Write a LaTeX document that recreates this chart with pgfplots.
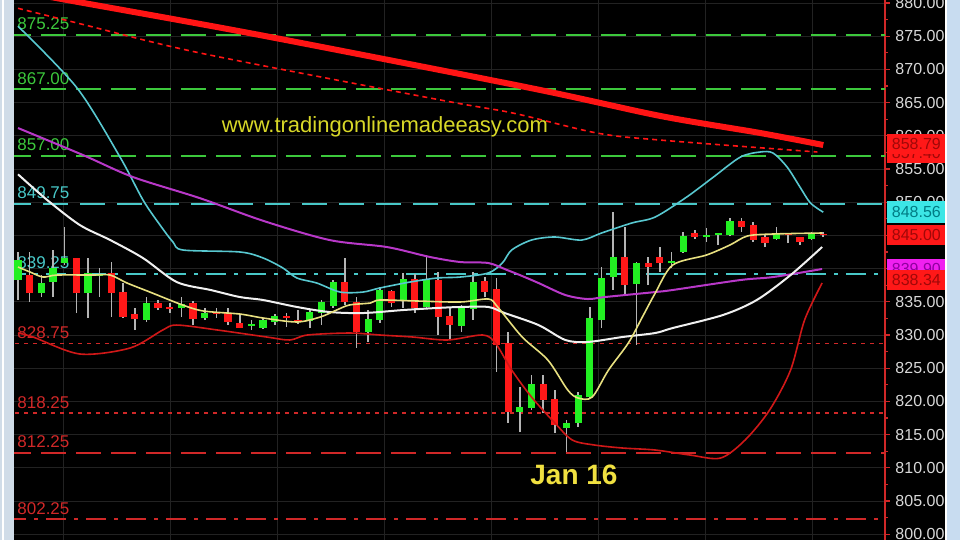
\documentclass[border=0pt]{standalone}
\usepackage{pgfplots}
\pgfplotsset{compat=1.18}
\usepackage{pgfplotstable}
\usepackage{fontspec}
\setmainfont{Liberation Sans}

\definecolor{gline}{HTML}{3CC83C}
\definecolor{cline}{HTML}{48C8C8}
\definecolor{rline}{HTML}{D02828}
\definecolor{cyanma}{HTML}{58C8D0}
\definecolor{magma}{HTML}{B838C8}
\definecolor{whitema}{HTML}{F0F0F0}
\definecolor{yelma}{HTML}{E8E080}
\definecolor{redlow}{HTML}{D01818}
\definecolor{redthick}{HTML}{FF1414}
\definecolor{candleg}{HTML}{22F022}
\definecolor{candler}{HTML}{FF1818}
\definecolor{wickc}{HTML}{B4B4B4}
\definecolor{tickc}{HTML}{D8D8D8}
\definecolor{gridc}{HTML}{222222}
\definecolor{webyel}{HTML}{D8D828}
\definecolor{janyel}{HTML}{F0E040}
\definecolor{leftbar}{HTML}{D0DCE8}
\definecolor{scrollc}{HTML}{C8DCF0}
\definecolor{boxcyan}{HTML}{3CE6E6}
\definecolor{boxcyantxt}{HTML}{007C84}
\definecolor{boxred}{HTML}{FF1818}
\definecolor{boxredtxt}{HTML}{A00808}
\definecolor{boxmag}{HTML}{F020F0}
\definecolor{boxmagtxt}{HTML}{9000A0}

% candles: i low high body-bottom body-top
\pgfplotstableread{
i lo hi bot top
0 835.27 842.50 838.28 841.29
2 835.72 839.03 836.32 837.83
3 835.72 842.80 837.98 840.09
4 840.54 846.26 840.84 841.59
6 832.56 841.59 836.32 839.34
7 835.72 840.09 838.90 839.20
11 831.96 835.72 832.26 834.82
14 832.71 835.72 834.06 834.67
16 832.26 834.06 832.56 833.31
20 830.75 832.26 831.35 831.65
21 830.90 832.56 831.05 832.26
22 831.50 833.16 831.96 832.86
25 831.05 833.76 832.11 833.46
26 831.50 835.27 833.31 834.97
27 834.06 838.28 834.37 837.98
30 828.94 833.76 830.45 832.41
31 831.81 837.23 832.26 836.78
33 834.06 839.34 835.12 838.43
35 834.06 842.05 834.22 838.28
38 830.45 834.52 831.35 834.22
39 832.26 839.49 833.91 837.98
43 815.39 822.17 818.40 819.15
44 818.70 823.97 819.00 822.62
47 812.38 817.20 815.99 816.75
48 816.14 821.41 816.75 820.96
49 820.51 834.22 820.66 832.56
50 831.05 840.24 832.26 838.58
51 836.78 848.52 838.73 841.75
53 828.49 840.99 837.68 840.84
56 840.09 842.50 840.84 841.14
57 842.35 845.51 842.50 844.91
59 844.00 846.11 844.76 845.06
60 843.55 845.36 845.06 845.36
61 844.91 847.62 845.06 847.17
65 844.31 846.26 844.46 845.21
68 844.31 845.51 844.46 845.36
}\upcandles

\pgfplotstableread{
i lo hi bot top
1 834.97 842.50 836.32 839.03
5 833.31 841.59 836.32 841.59
8 832.71 840.99 836.32 839.34
9 832.56 837.83 832.71 836.47
10 830.75 834.06 832.41 833.16
12 833.76 835.27 834.06 834.82
13 833.31 834.82 833.95 834.22
15 831.50 835.12 832.41 834.82
17 832.56 834.06 833.10 833.31
18 831.50 834.06 831.96 833.31
19 831.05 833.01 831.05 831.81
23 831.20 833.31 832.56 832.86
24 831.65 833.76 832.00 832.30
28 834.52 841.59 834.97 837.98
29 828.04 835.72 830.45 834.97
32 834.22 836.78 834.82 836.62
34 833.31 839.18 834.06 838.43
36 830.00 839.49 832.71 838.28
37 829.25 834.06 831.50 832.86
40 835.72 838.73 836.47 838.13
41 824.43 838.58 828.49 836.93
42 816.75 830.45 818.40 828.79
45 818.25 823.97 820.21 822.62
46 815.24 821.72 816.44 820.36
52 836.02 846.26 837.53 841.75
54 837.53 841.75 840.24 840.84
55 839.49 843.25 840.84 841.75
58 844.46 845.81 844.76 845.36
62 845.51 847.62 846.26 847.17
63 844.00 847.02 844.31 846.56
64 843.25 845.06 843.85 844.76
66 843.85 845.36 845.06 845.36
67 843.55 844.76 844.00 844.76
69 844.76 845.51 845.00 845.21
}\downcandles

\pgfplotsset{
  wick/.style={draw=none, forget plot, error bars/.cd, y dir=plus, y explicit,
    error mark=none, error bar style={draw=wickc, line width=0.8pt}},
  body/.style={draw=none, forget plot, error bars/.cd, y dir=plus, y explicit,
    error mark=none, error bar style={draw=#1, line width=3.6pt}},
  level/.style={line width=1pt},
}

\begin{document}
\begin{tikzpicture}
\fill[black] (0,0) rectangle (480pt,270pt);
\fill[leftbar] (0,0) rectangle (7pt,270pt);
\draw[white, line width=1pt] (1.5pt,0) -- (1.5pt,270pt);
\fill[scrollc] (472.5pt,0) rectangle (480pt,270pt);
\draw[white, line width=0.8pt] (473pt,0) -- (473pt,270pt);
\begin{axis}[
  at={(7pt,0pt)}, anchor=south west,
  scale only axis, width=435.5pt, height=270pt,
  xmin=-0.343, xmax=74.29,
  ymin=799.13, ymax=880.452,
  axis x line*=bottom,
  x axis line style={draw=none, -},
  xtick={3.86,13.03,22.2,31.37,40.54,49.71,58.88,68.05},
  xticklabels={},
  xtick style={draw=none},
  axis y line*=right,
  y axis line style={draw=rline, line width=0.9pt, -},
  ytick={800,805,...,880},
  minor y tick num=1,
  tick align=outside,
  major tick length=2.5pt,
  minor tick length=1.5pt,
  ytick style={draw=rline, line width=0.6pt},
  xmajorgrids, ymajorgrids,
  grid style={draw=gridc, line width=0.4pt},
  yticklabel style={text=tickc, font=\fontsize{8}{9.6}\selectfont, xshift=-0.8pt,
    /pgf/number format/.cd, fixed, fixed zerofill, precision=2, 1000 sep={},
    assume math mode=true},
]
% price levels
\addplot[level, gline, dash pattern=on 12.5pt off 5pt] coordinates {(-1,875.25) (75,875.25)};
\addplot[level, gline, dash pattern=on 12.5pt off 5pt] coordinates {(-1,867.00) (75,867.00)};
\addplot[level, gline, dash pattern=on 12.5pt off 5pt] coordinates {(-1,857.00) (75,857.00)};
\addplot[level, cline, dash pattern=on 12.5pt off 6pt] coordinates {(-1,849.75) (75,849.75)};
\addplot[level, cline, dash pattern=on 10pt off 4pt on 2pt off 4pt] coordinates {(-1,839.25) (75,839.25)};
\addplot[level, rline, line width=0.8pt, dash pattern=on 2pt off 2.5pt] coordinates {(-1,828.75) (75,828.75)};
\addplot[level, rline, line width=0.8pt, dash pattern=on 2pt off 2.5pt] coordinates {(-1,818.25) (75,818.25)};
\addplot[level, rline, dash pattern=on 12.5pt off 5pt] coordinates {(-1,812.25) (75,812.25)};
\addplot[level, rline, dash pattern=on 10pt off 4pt on 2pt off 4pt] coordinates {(-1,802.25) (75,802.25)};

\node[anchor=base west, text=gline, font=\fontsize{8.5}{10}\selectfont, inner sep=0, xshift=1.5pt, yshift=2.5pt] at (axis cs:-0.343,875.25) {875.25};
\node[anchor=base west, text=gline, font=\fontsize{8.5}{10}\selectfont, inner sep=0, xshift=1.5pt, yshift=2.5pt] at (axis cs:-0.343,867.00) {867.00};
\node[anchor=base west, text=gline, font=\fontsize{8.5}{10}\selectfont, inner sep=0, xshift=1.5pt, yshift=2.5pt] at (axis cs:-0.343,857.00) {857.00};
\node[anchor=base west, text=cline, font=\fontsize{8.5}{10}\selectfont, inner sep=0, xshift=1.5pt, yshift=2.5pt] at (axis cs:-0.343,849.75) {849.75};
\node[anchor=base west, text=cline, font=\fontsize{8.5}{10}\selectfont, inner sep=0, xshift=1.5pt, yshift=2.5pt] at (axis cs:-0.343,839.25) {839.25};
\node[anchor=base west, text=rline, font=\fontsize{8.5}{10}\selectfont, inner sep=0, xshift=1.5pt, yshift=2.5pt] at (axis cs:-0.343,828.75) {828.75};
\node[anchor=base west, text=rline, font=\fontsize{8.5}{10}\selectfont, inner sep=0, xshift=1.5pt, yshift=2.5pt] at (axis cs:-0.343,818.25) {818.25};
\node[anchor=base west, text=rline, font=\fontsize{8.5}{10}\selectfont, inner sep=0, xshift=1.5pt, yshift=2.5pt] at (axis cs:-0.343,812.25) {812.25};
\node[anchor=base west, text=rline, font=\fontsize{8.5}{10}\selectfont, inner sep=0, xshift=1.5pt, yshift=2.5pt] at (axis cs:-0.343,802.25) {802.25};

% candles
\addplot[wick] table[x=i, y=lo, y error expr=\thisrow{hi}-\thisrow{lo}] {\upcandles};
\addplot[wick] table[x=i, y=lo, y error expr=\thisrow{hi}-\thisrow{lo}] {\downcandles};
\addplot[body=candleg] table[x=i, y=bot, y error expr=\thisrow{top}-\thisrow{bot}] {\upcandles};
\addplot[body=candler] table[x=i, y=bot, y error expr=\thisrow{top}-\thisrow{bot}] {\downcandles};

% long moving averages
\addplot[redthick, line width=3pt, smooth] coordinates {
(0,881.8) (4.2,880.45) (20.7,875.18) (43.9,867.2) (55.0,863.0) (63.6,860.42) (69.0,858.61)};
\addplot[redthick, line width=0.8pt, dash pattern=on 2.5pt off 2pt, smooth] coordinates {
(0,879.2) (5.06,876.99) (15.6,872.47) (36.2,865.39) (42.4,863.43) (49.6,860.42) (55.0,859.36) (68.5,857.56)};
% upper band
\addplot[cyanma, line width=0.8pt, smooth] coordinates {
(0,876.5) (5.06,867.2) (8.74,856.8) (10.71,850.33) (12.17,846.56) (13.28,844.0) (14.14,842.8)
(19.02,842.5) (21.0,841.6) (22.7,840.09) (23.9,838.58) (25.6,837.83) (27.6,836.47) (29.56,836.47)
(31.0,837.08) (33.6,837.98) (35.9,838.58) (37.9,838.73) (40.3,839.34) (41.5,840.84) (42.3,842.8)
(44.0,844.3) (46.0,844.76) (48.3,844.3) (50.0,845.36) (52.6,846.87) (54.6,847.77) (57.3,850.78)
(59.6,853.8) (61.9,856.8) (63.6,857.56) (64.7,857.4) (65.9,855.3) (67.0,852.29) (67.9,849.88) (69.0,848.5)};
% magenta average
\addplot[magma, line width=1pt, smooth] coordinates {
(0,861.17) (5.57,857.1) (9.85,853.79) (15.6,850.6) (21.0,847.2) (26.7,844.3) (31.6,843.25)
(35.3,841.75) (37.9,840.99) (40.3,840.84) (41.9,839.79) (43.0,839.03) (44.6,837.83) (46.9,836.02)
(48.8,835.42) (50.3,835.72) (54.6,836.47) (56.1,836.78) (61.9,838.28) (64.7,838.73) (68.9,839.94)};
% middle band
\addplot[whitema, line width=1pt, smooth] coordinates {
(0,854.2) (2.5,850.33) (5.3,846.56) (7.9,844.3) (10.7,841.6) (13.6,837.98) (16.5,836.78)
(19.0,835.72) (21.0,835.27) (23.9,834.22) (26.7,833.46) (29.6,833.31) (33.0,833.76) (35.9,834.07)
(37.9,834.22) (40.3,834.22) (41.7,833.31) (44.6,831.5) (46.9,829.25) (48.8,828.95) (51.8,829.7)
(54.6,830.3) (56.1,831.05) (60.4,833.01) (63.3,835.27) (66.2,839.03) (68.9,843.25)};
% lower band
\addplot[redlow, line width=0.8pt, smooth] coordinates {
(0,830.3) (1.29,829.7) (5.3,827.14) (9.6,828.04) (12.4,830.75) (13.6,831.5) (17.1,830.75)
(21.3,829.7) (23.3,829.25) (24.8,830.0) (28.4,830.3) (31.0,830.0) (33.8,829.7) (36.8,829.25)
(39.8,830.0) (40.9,828.8) (42.3,824.73) (44.0,820.66) (46.0,816.75) (47.5,814.18) (49.4,813.43)
(51.8,812.98) (54.6,812.68) (57.6,811.92) (60.2,811.47) (62.3,814.18) (64.4,818.7) (66.2,824.73)
(67.4,832.26) (68.9,837.83)};
% short average
\addplot[yelma, line width=0.8pt, smooth] coordinates {
(0,840.24) (1.03,839.49) (2.14,838.73) (3.34,839.03) (6.43,839.03) (7.9,839.03) (9.34,837.83)
(11.3,836.47) (14.1,834.52) (15.9,833.61) (19.0,833.16) (21.0,832.56) (23.9,831.96) (25.9,832.71)
(27.3,833.76) (28.4,834.52) (30.2,834.82) (31.0,835.27) (34.2,835.12) (37.9,834.97) (40.3,835.42)
(41.1,834.22) (43.2,829.7) (45.4,826.23) (47.1,821.72) (48.0,820.51) (49.2,820.66) (50.6,824.73)
(52.3,828.8) (53.5,832.71) (54.6,836.3) (56.1,840.54) (59.0,842.05) (61.0,843.55) (62.5,844.91)
(64.7,845.21) (68.9,845.36)};

\node[text=webyel, font=\fontsize{11}{13}\selectfont] at (axis cs:31.45,861.32) {www.tradingonlinemadeeasy.com};
\node[text=janyel, font=\bfseries\fontsize{14}{16}\selectfont] at (axis cs:47.64,808.9) {Jan 16};

\coordinate (b1) at (axis cs:74.29,857.40);
\coordinate (b2) at (axis cs:74.29,858.79);
\coordinate (b3) at (axis cs:74.29,848.56);
\coordinate (b4) at (axis cs:74.29,845.00);
\coordinate (b5) at (axis cs:74.29,839.90);
\coordinate (b6) at (axis cs:74.29,838.34);
\end{axis}
\tikzset{pbox/.style={anchor=west, inner sep=0pt, minimum width=29pt, minimum height=10pt,
  xshift=1pt, font=\fontsize{8}{9.6}\selectfont}}
\node[pbox, fill=boxred, text=boxredtxt] at (b1) {857.40};
\node[pbox, fill=boxred, text=boxredtxt] at (b2) {858.79};
\node[pbox, fill=boxcyan, text=boxcyantxt, minimum height=11pt] at (b3) {848.56};
\node[pbox, fill=boxred, text=boxredtxt] at (b4) {845.00};
\node[pbox, fill=boxmag, text=boxmagtxt] at (b5) {839.90};
\node[pbox, fill=boxred, text=boxredtxt] at (b6) {838.34};
\pgfresetboundingbox
\path[use as bounding box] (0,0) rectangle (480pt,270pt);
\end{tikzpicture}
\end{document}
